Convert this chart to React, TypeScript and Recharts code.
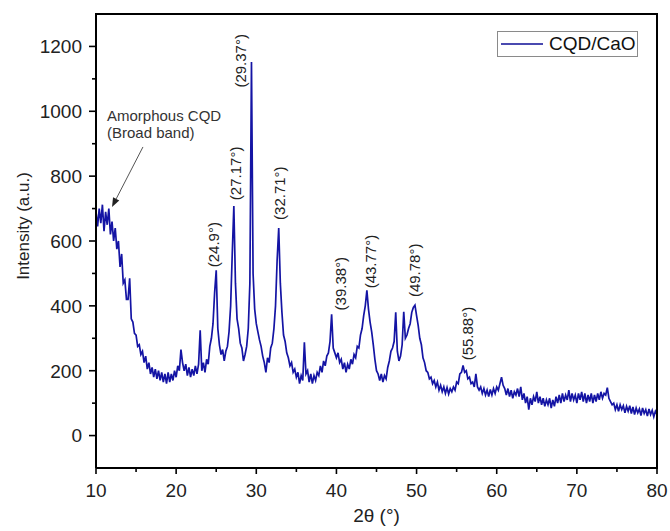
import React from 'react';
import { LineChart, Line, XAxis, YAxis, ReferenceDot, ReferenceLine } from 'recharts';

// XRD scan: 2θ from 10° to 80°, sampled every 0.2°
const scanStart = 10;
const scanStep = 0.2;
const intensity: number[] = [
  690, 645, 700, 655, 712, 630, 690, 650, 700, 620, // 10-11.8
  660, 600, 640, 575, 600, 520, 560, 470, 480, 420, // 12-13.8
  420, 485, 360, 350, 315, 310, 275, 280, 250, 260, // 14-15.8
  225, 245, 205, 225, 190, 210, 180, 205, 175, 200, // 16-17.8
  170, 195, 165, 190, 160, 195, 165, 190, 170, 200, // 18-19.8
  180, 215, 200, 265, 225, 200, 220, 185, 210, 180, // 20-21.8
  205, 185, 215, 190, 220, 325, 200, 225, 195, 235, // 22-23.8
  220, 275, 300, 345, 440, 510, 330, 280, 250, 265, // 24-25.8
  230, 260, 275, 320, 400, 560, 708, 470, 360, 330, // 26-27.8
  285, 270, 230, 250, 275, 330, 470, 1152, 500, 390, // 28-29.8
  345, 320, 295, 275, 245, 225, 195, 240, 225, 270, // 30-31.8
  285, 330, 400, 540, 640, 470, 380, 310, 290, 255, // 32-33.8
  240, 215, 225, 195, 205, 180, 195, 160, 185, 170, // 34-35.8
  288, 190, 200, 165, 190, 160, 185, 170, 195, 185, // 36-37.8
  215, 195, 230, 215, 245, 255, 290, 374, 270, 255, // 38-39.8
  240, 255, 225, 235, 205, 225, 195, 220, 205, 235, // 40-41.8
  220, 250, 240, 275, 270, 310, 330, 370, 400, 448, // 42-43.8
  390, 350, 320, 280, 235, 200, 190, 170, 190, 165, // 44-45.8
  185, 175, 210, 230, 260, 270, 290, 380, 260, 230, // 46-47.8
  245, 280, 382, 300, 310, 330, 345, 380, 395, 402, // 48-49.8
  370, 340, 300, 280, 240, 225, 200, 195, 175, 180, // 50-51.8
  160, 170, 150, 165, 140, 155, 135, 150, 130, 148, // 52-53.8
  128, 145, 135, 150, 140, 165, 160, 190, 195, 216, // 54-55.8
  195, 200, 175, 180, 160, 165, 150, 190, 150, 140, // 56-57.8
  150, 130, 145, 125, 140, 120, 142, 125, 145, 130, // 58-59.8
  150, 140, 160, 180, 155, 145, 125, 145, 120, 140, // 60-61.8
  115, 135, 125, 145, 120, 150, 110, 130, 100, 120, // 62-63.8
  80, 115, 95, 120, 105, 135, 100, 120, 95, 115,    // 64-65.8
  90, 110, 95, 115, 85, 110, 90, 120, 100, 125,     // 66-67.8
  100, 130, 105, 125, 110, 140, 105, 130, 110, 125, // 68-69.8
  100, 130, 110, 135, 105, 130, 100, 125, 105, 130, // 70-71.8
  100, 125, 105, 130, 110, 135, 115, 130, 125, 148, // 72-73.8
  115, 105, 95, 100, 80, 95, 75, 95, 80, 92,        // 74-75.8
  70, 90, 75, 92, 68, 88, 65, 85, 70, 82,           // 76-77.8
  62, 85, 68, 80, 60, 82, 65, 78, 58, 75,           // 78-79.8
  65,                                               // 80
];

const xDomain = [10, 80];
const yDomain = [-100, 1300];
const xTicks = [10, 15, 20, 25, 30, 35, 40, 45, 50, 55, 60, 65, 70, 75, 80];
const yTicks = [0, 100, 200, 300, 400, 500, 600, 700, 800, 900, 1000, 1100, 1200];

// peak labels: 2θ label text, anchor (2θ, intensity) where the rotated label starts
const peakLabels = [
  { text: '(24.9°)', t: 24.6, v: 519 },
  { text: '(27.17°)', t: 27.35, v: 726 },
  { text: '(29.37°)', t: 28.0, v: 1073 },
  { text: '(32.71°)', t: 32.84, v: 665 },
  { text: '(39.38°)', t: 40.55, v: 386 },
  { text: '(43.77°)', t: 44.2, v: 454 },
  { text: '(49.78°)', t: 49.8, v: 427 },
  { text: '(55.88°)', t: 56.3, v: 232 },
];

const seriesName = 'CQD/CaO';
const noteLines = ['Amorphous CQD', '(Broad band)'];
const noteAnchor = { t: 11.37, v: 970 };
const arrowFrom = { t: 15.86, v: 890 };
const arrowTo = { t: 12.0, v: 705 };

const data = intensity.map((v, i) => ({ t: +(scanStart + i * scanStep).toFixed(1), v }));

// layout constants
const W = 670;
const H = 531;
const MARGIN = { top: 14, right: 13, left: 13, bottom: 0 };
const Y_AXIS_W = 83;
const X_AXIS_H = 63;
const PLOT_LEFT = MARGIN.left + Y_AXIS_W;
const PLOT_TOP = MARGIN.top;
const PLOT_RIGHT = W - MARGIN.right;
const PLOT_BOTTOM = H - MARGIN.bottom - X_AXIS_H;

const FONT = '"Liberation Sans", Arial, sans-serif';
const LINE_COLOR = '#1414a4';
const X_TICK_SIZE = 6;
const X_TICK_MARGIN = 10;
const Y_TICK_SIZE = 7;
const Y_TICK_MARGIN = 7;

const XTick = (props: any) => {
  const { x, y, payload } = props;
  const major = payload.value % 10 === 0;
  const axisY = y - X_TICK_SIZE - X_TICK_MARGIN;
  return (
    <g>
      <line x1={x} x2={x} y1={axisY} y2={axisY + (major ? 6 : 4)} stroke="#000" strokeWidth={1.6} />
      {major && (
        <text x={x} y={y} dy="0.71em" textAnchor="middle" fontFamily={FONT} fontSize={19} fill="#222">
          {payload.value}
        </text>
      )}
    </g>
  );
};

const YTick = (props: any) => {
  const { x, y, payload } = props;
  const major = payload.value % 200 === 0;
  const axisX = x + Y_TICK_SIZE + Y_TICK_MARGIN;
  return (
    <g>
      <line x1={axisX} x2={axisX - (major ? 7 : 4)} y1={y} y2={y} stroke="#000" strokeWidth={1.6} />
      {major && (
        <text x={x} y={y} dy="0.36em" textAnchor="end" fontFamily={FONT} fontSize={19} fill="#222">
          {payload.value}
        </text>
      )}
    </g>
  );
};

const LegendBox = () => (
  <div
    style={{
      position: 'absolute',
      left: 497,
      top: 31,
      boxSizing: 'border-box',
      width: 141,
      height: 26,
      border: '1px solid #8a8a8a',
      display: 'flex',
      alignItems: 'center',
      background: '#fff',
      zIndex: 2,
    }}
  >
    <span style={{ display: 'inline-block', width: 42, height: 1.5, background: '#4a4ab0', marginLeft: 3 }} />
    <span style={{ marginLeft: 6, fontFamily: FONT, fontSize: 19, color: '#111', lineHeight: '24px' }}>{seriesName}</span>
  </div>
);

// top and right frame of the plot area, drawn in SVG from the layout constants
const FrameShape = () => (
  <g>
    <line x1={PLOT_LEFT - 1} y1={PLOT_TOP} x2={PLOT_RIGHT + 1} y2={PLOT_TOP} stroke="#000" strokeWidth={2} />
    <line x1={PLOT_RIGHT} y1={PLOT_TOP} x2={PLOT_RIGHT} y2={PLOT_BOTTOM + 1} stroke="#000" strokeWidth={2} />
  </g>
);

const FrameOverlay = () => (
  <svg
    width={W}
    height={H}
    style={{ position: 'absolute', left: 0, top: 0, pointerEvents: 'none', zIndex: 1 }}
  >
    <FrameShape />
  </svg>
);

const PeakLabel = (text: string) => (props: any) => {
  const { cx, cy } = props;
  return (
    <text
      x={cx}
      y={cy}
      transform={`rotate(-90 ${cx} ${cy})`}
      textAnchor="start"
      dominantBaseline="central"
      fontFamily={FONT}
      fontSize={15}
      fill="#222"
    >
      {text}
    </text>
  );
};

const NoteText = (props: any) => {
  const { cx, cy } = props;
  return (
    <g>
      {noteLines.map((l, i) => (
        <text key={i} x={cx} y={cy + i * 17} fontFamily={FONT} fontSize={15} fill="#333">
          {l}
        </text>
      ))}
      <FrameShape />
    </g>
  );
};

const Arrow = (props: any) => {
  const { x1, y1, x2, y2 } = props;
  const dx = x2 - x1;
  const dy = y2 - y1;
  const len = Math.sqrt(dx * dx + dy * dy) || 1;
  const ux = dx / len;
  const uy = dy / len;
  const hl = 9;
  const hw = 3.5;
  const bx = x2 - ux * hl;
  const by = y2 - uy * hl;
  const p = `${x2},${y2} ${bx - uy * hw},${by + ux * hw} ${bx + uy * hw},${by - ux * hw}`;
  return (
    <g>
      <line x1={x1} y1={y1} x2={bx} y2={by} stroke="#555" strokeWidth={1} />
      <polygon points={p} fill="#222" />
    </g>
  );
};

export default function App() {
  return (
    <div style={{ position: 'absolute', left: 0, top: 0, width: W, height: H }}>
      <LineChart width={W} height={H} data={data} margin={MARGIN}>
        <XAxis
          dataKey="t"
          type="number"
          domain={xDomain}
          allowDataOverflow
          ticks={xTicks}
          interval={0}
          tickLine={false}
          tickSize={X_TICK_SIZE}
          tickMargin={X_TICK_MARGIN}
          tick={XTick}
          axisLine={{ stroke: '#000', strokeWidth: 2 }}
          height={X_AXIS_H}
          label={(p: any) => {
            const vb = p.viewBox;
            return (
              <text x={vb.x + vb.width / 2} y={vb.y + 54} textAnchor="middle" fontFamily={FONT} fontSize={19} fill="#222">
                2θ (°)
              </text>
            );
          }}
        />
        <YAxis
          type="number"
          domain={yDomain}
          allowDataOverflow
          ticks={yTicks}
          interval={0}
          tickLine={false}
          tickSize={Y_TICK_SIZE}
          tickMargin={Y_TICK_MARGIN}
          tick={YTick}
          axisLine={{ stroke: '#000', strokeWidth: 2 }}
          width={Y_AXIS_W}
          label={(p: any) => {
            const vb = p.viewBox;
            const cx = vb.x + 10;
            const cy = vb.y + vb.height / 2 - 15;
            return (
              <text
                x={cx}
                y={cy}
                transform={`rotate(-90 ${cx} ${cy})`}
                textAnchor="middle"
                dominantBaseline="central"
                fontFamily={FONT}
                fontSize={17}
                fill="#222"
              >
                Intensity (a.u.)
              </text>
            );
          }}
        />
        <Line
          type="linear"
          dataKey="v"
          name={seriesName}
          stroke={LINE_COLOR}
          strokeWidth={1.7}
          strokeLinejoin="miter"
          dot={false}
          activeDot={false}
          isAnimationActive={false}
        />
        {peakLabels.map((pl) => (
          <ReferenceDot key={pl.text} x={pl.t} y={pl.v} r={0} shape={PeakLabel(pl.text)} />
        ))}
        <ReferenceDot x={noteAnchor.t} y={noteAnchor.v} r={0} shape={NoteText} />
        <ReferenceLine
          segment={[
            { x: arrowFrom.t, y: arrowFrom.v },
            { x: arrowTo.t, y: arrowTo.v },
          ]}
          shape={Arrow}
        />
      </LineChart>
      <FrameOverlay />
      <LegendBox />
    </div>
  );
}
